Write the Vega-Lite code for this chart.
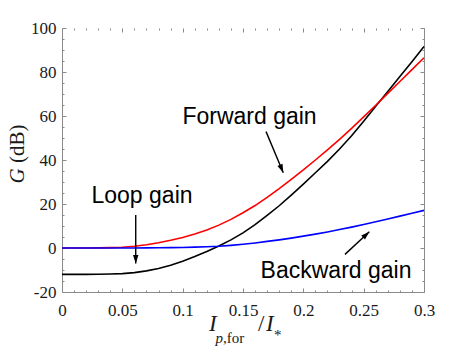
{
  "$schema": "https://vega.github.io/schema/vega-lite/v6.json",
  "width": 362,
  "height": 264,
  "autosize": {"type": "none"},
  "padding": {"left": 62, "top": 28, "right": 45, "bottom": 60},
  "background": "white",
  "config": {
    "view": {"stroke": null},
    "axis": {
      "grid": false,
      "title": null,
      "domainColor": "#8a8a8a",
      "tickColor": "#8a8a8a"
    }
  },
  "datasets": {
    "curves": [
      {"x": 0, "G": -12.0, "series": "Loop"},
      {"x": 0.01, "G": -12.0, "series": "Loop"},
      {"x": 0.02, "G": -12.0, "series": "Loop"},
      {"x": 0.03, "G": -11.95, "series": "Loop"},
      {"x": 0.04, "G": -11.85, "series": "Loop"},
      {"x": 0.05, "G": -11.65, "series": "Loop"},
      {"x": 0.06, "G": -11.2, "series": "Loop"},
      {"x": 0.07, "G": -10.4, "series": "Loop"},
      {"x": 0.08, "G": -9.3, "series": "Loop"},
      {"x": 0.09, "G": -7.8, "series": "Loop"},
      {"x": 0.1, "G": -6.0, "series": "Loop"},
      {"x": 0.11, "G": -3.9, "series": "Loop"},
      {"x": 0.12, "G": -1.6, "series": "Loop"},
      {"x": 0.13, "G": 0.9, "series": "Loop"},
      {"x": 0.14, "G": 3.7, "series": "Loop"},
      {"x": 0.15, "G": 6.9, "series": "Loop"},
      {"x": 0.16, "G": 10.6, "series": "Loop"},
      {"x": 0.17, "G": 14.8, "series": "Loop"},
      {"x": 0.18, "G": 19.2, "series": "Loop"},
      {"x": 0.19, "G": 24.0, "series": "Loop"},
      {"x": 0.2, "G": 29.0, "series": "Loop"},
      {"x": 0.21, "G": 34.2, "series": "Loop"},
      {"x": 0.22, "G": 39.4, "series": "Loop"},
      {"x": 0.23, "G": 45.0, "series": "Loop"},
      {"x": 0.24, "G": 51.0, "series": "Loop"},
      {"x": 0.25, "G": 57.6, "series": "Loop"},
      {"x": 0.26, "G": 64.4, "series": "Loop"},
      {"x": 0.27, "G": 71.1, "series": "Loop"},
      {"x": 0.28, "G": 77.9, "series": "Loop"},
      {"x": 0.29, "G": 84.7, "series": "Loop"},
      {"x": 0.3, "G": 91.6, "series": "Loop"},
      {"x": 0, "G": 0, "series": "Forward"},
      {"x": 0.01, "G": 0, "series": "Forward"},
      {"x": 0.02, "G": 0.02, "series": "Forward"},
      {"x": 0.03, "G": 0.05, "series": "Forward"},
      {"x": 0.04, "G": 0.15, "series": "Forward"},
      {"x": 0.05, "G": 0.35, "series": "Forward"},
      {"x": 0.06, "G": 0.8, "series": "Forward"},
      {"x": 0.07, "G": 1.5, "series": "Forward"},
      {"x": 0.08, "G": 2.4, "series": "Forward"},
      {"x": 0.09, "G": 3.5, "series": "Forward"},
      {"x": 0.1, "G": 4.8, "series": "Forward"},
      {"x": 0.11, "G": 6.4, "series": "Forward"},
      {"x": 0.12, "G": 8.2, "series": "Forward"},
      {"x": 0.13, "G": 10.4, "series": "Forward"},
      {"x": 0.14, "G": 13.0, "series": "Forward"},
      {"x": 0.15, "G": 16.0, "series": "Forward"},
      {"x": 0.16, "G": 19.3, "series": "Forward"},
      {"x": 0.17, "G": 23.0, "series": "Forward"},
      {"x": 0.18, "G": 27.0, "series": "Forward"},
      {"x": 0.19, "G": 31.2, "series": "Forward"},
      {"x": 0.2, "G": 35.5, "series": "Forward"},
      {"x": 0.21, "G": 40.0, "series": "Forward"},
      {"x": 0.22, "G": 44.6, "series": "Forward"},
      {"x": 0.23, "G": 49.4, "series": "Forward"},
      {"x": 0.24, "G": 54.4, "series": "Forward"},
      {"x": 0.25, "G": 59.6, "series": "Forward"},
      {"x": 0.26, "G": 64.9, "series": "Forward"},
      {"x": 0.27, "G": 70.3, "series": "Forward"},
      {"x": 0.28, "G": 75.7, "series": "Forward"},
      {"x": 0.29, "G": 81.1, "series": "Forward"},
      {"x": 0.3, "G": 86.5, "series": "Forward"},
      {"x": 0, "G": 0, "series": "Backward"},
      {"x": 0.01, "G": 0, "series": "Backward"},
      {"x": 0.02, "G": 0, "series": "Backward"},
      {"x": 0.03, "G": 0, "series": "Backward"},
      {"x": 0.04, "G": 0, "series": "Backward"},
      {"x": 0.05, "G": 0.01, "series": "Backward"},
      {"x": 0.06, "G": 0.02, "series": "Backward"},
      {"x": 0.07, "G": 0.05, "series": "Backward"},
      {"x": 0.08, "G": 0.1, "series": "Backward"},
      {"x": 0.09, "G": 0.15, "series": "Backward"},
      {"x": 0.1, "G": 0.25, "series": "Backward"},
      {"x": 0.11, "G": 0.38, "series": "Backward"},
      {"x": 0.12, "G": 0.55, "series": "Backward"},
      {"x": 0.13, "G": 0.8, "series": "Backward"},
      {"x": 0.14, "G": 1.2, "series": "Backward"},
      {"x": 0.15, "G": 1.7, "series": "Backward"},
      {"x": 0.16, "G": 2.3, "series": "Backward"},
      {"x": 0.17, "G": 3.0, "series": "Backward"},
      {"x": 0.18, "G": 3.7, "series": "Backward"},
      {"x": 0.19, "G": 4.5, "series": "Backward"},
      {"x": 0.2, "G": 5.4, "series": "Backward"},
      {"x": 0.21, "G": 6.3, "series": "Backward"},
      {"x": 0.22, "G": 7.3, "series": "Backward"},
      {"x": 0.23, "G": 8.4, "series": "Backward"},
      {"x": 0.24, "G": 9.5, "series": "Backward"},
      {"x": 0.25, "G": 10.7, "series": "Backward"},
      {"x": 0.26, "G": 11.9, "series": "Backward"},
      {"x": 0.27, "G": 13.2, "series": "Backward"},
      {"x": 0.28, "G": 14.5, "series": "Backward"},
      {"x": 0.29, "G": 15.8, "series": "Backward"},
      {"x": 0.3, "G": 17.1, "series": "Backward"}
    ],
    "arrows": [
      {"arrow": "loop", "x": 0.0611, "y": 15.0, "x2": 0.0611, "y2": -7.0},
      {"arrow": "forward", "x": 0.1691, "y": 52.9, "x2": 0.1834, "y2": 34.2},
      {"arrow": "backward", "x": 0.2345, "y": -2.9, "x2": 0.2547, "y2": 7.4}
    ],
    "labels": [
      {"text": "Forward gain", "x": 0.1554, "y": 56.4, "part": "annotation"},
      {"text": "Loop gain", "x": 0.0663, "y": 20.5, "part": "annotation"},
      {"text": "Backward gain", "x": 0.2271, "y": -13.5, "part": "annotation"},
      {"text": "I", "x": 0.1218, "y": -37.7, "part": "xvar"},
      {"text": "p", "x": 0.1272, "y": -43.2, "part": "xsubvar"},
      {"text": ",for", "x": 0.1334, "y": -43.2, "part": "xsubtext"},
      {"text": "/", "x": 0.1624, "y": -37.7, "part": "xop"},
      {"text": "I", "x": 0.1691, "y": -37.7, "part": "xvar"},
      {"text": "*", "x": 0.1757, "y": -41.8, "part": "xsubtext"},
      {"text": "G", "x": -0.0315, "y": 29.3, "part": "yvar"},
      {"text": "(dB)", "x": -0.0315, "y": 38.6, "part": "yunit"}
    ]
  },
  "layer": [
    {
      "data": {"name": "curves"},
      "transform": [{"filter": "datum.series === 'Loop'"}],
      "mark": {"type": "line", "color": "#000000", "strokeWidth": 1.6},
      "encoding": {
        "x": {"field": "x", "type": "quantitative", "scale": {"domain": [0, 0.3], "nice": false, "zero": false},
          "axis": {"orient": "bottom", "values": [0, 0.05, 0.1, 0.15, 0.2, 0.25, 0.3], "labelExpr": "'' + datum.value", "tickSize": -4, "labelPadding": 14, "labelFlush": false, "labelOverlap": false, "labelFont": "Liberation Serif", "labelFontSize": 17, "labelColor": "#1a1a1a"}},
        "y": {"field": "G", "type": "quantitative", "scale": {"domain": [-20, 100], "nice": false, "zero": false},
          "axis": {"orient": "left", "values": [-20, 0, 20, 40, 60, 80, 100], "labelExpr": "'' + datum.value", "tickSize": -4, "labelPadding": 10, "labelFlush": false, "labelOverlap": false, "labelFont": "Liberation Serif", "labelFontSize": 17, "labelColor": "#1a1a1a"}}
      }
    },
    {
      "data": {"name": "curves"},
      "transform": [{"filter": "datum.series === 'Forward'"}],
      "mark": {"type": "line", "color": "#ff0000", "strokeWidth": 1.6},
      "encoding": {
        "x": {"field": "x", "type": "quantitative", "scale": {"domain": [0, 0.3], "nice": false, "zero": false},
          "axis": {"orient": "bottom", "values": [0.01, 0.02, 0.03, 0.04, 0.06, 0.07, 0.08, 0.09, 0.11, 0.12, 0.13, 0.14, 0.16, 0.17, 0.18, 0.19, 0.21, 0.22, 0.23, 0.24, 0.26, 0.27, 0.28, 0.29], "labels": false, "domain": false, "tickSize": -2}},
        "y": {"field": "G", "type": "quantitative", "scale": {"domain": [-20, 100], "nice": false, "zero": false},
          "axis": {"orient": "left", "values": [-15, -10, -5, 5, 10, 15, 25, 30, 35, 45, 50, 55, 65, 70, 75, 85, 90, 95], "labels": false, "domain": false, "tickSize": -2}}
      }
    },
    {
      "data": {"name": "curves"},
      "transform": [{"filter": "datum.series === 'Backward'"}],
      "mark": {"type": "line", "color": "#0000ff", "strokeWidth": 1.6},
      "encoding": {
        "x": {"field": "x", "type": "quantitative", "scale": {"domain": [0, 0.3], "nice": false, "zero": false},
          "axis": {"orient": "top", "values": [0, 0.05, 0.1, 0.15, 0.2, 0.25, 0.3], "labels": false, "domain": false, "tickSize": -4}},
        "y": {"field": "G", "type": "quantitative", "scale": {"domain": [-20, 100], "nice": false, "zero": false},
          "axis": {"orient": "right", "values": [-20, 0, 20, 40, 60, 80, 100], "labels": false, "domain": true, "tickSize": -4}}
      }
    },
    {
      "data": {"name": "arrows"},
      "mark": {"type": "rule", "color": "#000000", "strokeWidth": 1.4},
      "encoding": {
        "x": {"field": "x", "type": "quantitative", "scale": {"domain": [0, 0.3], "nice": false, "zero": false},
          "axis": {"orient": "top", "values": [0.01, 0.02, 0.03, 0.04, 0.06, 0.07, 0.08, 0.09, 0.11, 0.12, 0.13, 0.14, 0.16, 0.17, 0.18, 0.19, 0.21, 0.22, 0.23, 0.24, 0.26, 0.27, 0.28, 0.29], "labels": false, "domain": false, "tickSize": -2}},
        "y": {"field": "y", "type": "quantitative", "scale": {"domain": [-20, 100], "nice": false, "zero": false},
          "axis": {"orient": "right", "values": [-15, -10, -5, 5, 10, 15, 25, 30, 35, 45, 50, 55, 65, 70, 75, 85, 90, 95], "labels": false, "domain": false, "tickSize": -2}},
        "x2": {"field": "x2"},
        "y2": {"field": "y2"}
      }
    },
    {
      "data": {"name": "arrows"},
      "transform": [{"filter": "datum.arrow === 'loop'"}],
      "mark": {"type": "point", "filled": true, "color": "#000000", "opacity": 1, "shape": "M0,0L-0.55,1.7L0.55,1.7Z", "size": 100, "angle": 180, "strokeWidth": 0},
      "encoding": {
        "x": {"field": "x2", "type": "quantitative", "scale": {"domain": [0, 0.3], "nice": false, "zero": false}, "axis": null},
        "y": {"field": "y2", "type": "quantitative", "scale": {"domain": [-20, 100], "nice": false, "zero": false}, "axis": null}
      }
    },
    {
      "data": {"name": "arrows"},
      "transform": [{"filter": "datum.arrow === 'forward'"}],
      "mark": {"type": "point", "filled": true, "color": "#000000", "opacity": 1, "shape": "M0,0L-0.55,1.7L0.55,1.7Z", "size": 100, "angle": 157, "strokeWidth": 0},
      "encoding": {
        "x": {"field": "x2", "type": "quantitative", "scale": {"domain": [0, 0.3], "nice": false, "zero": false}, "axis": null},
        "y": {"field": "y2", "type": "quantitative", "scale": {"domain": [-20, 100], "nice": false, "zero": false}, "axis": null}
      }
    },
    {
      "data": {"name": "arrows"},
      "transform": [{"filter": "datum.arrow === 'backward'"}],
      "mark": {"type": "point", "filled": true, "color": "#000000", "opacity": 1, "shape": "M0,0L-0.55,1.7L0.55,1.7Z", "size": 100, "angle": 47, "strokeWidth": 0},
      "encoding": {
        "x": {"field": "x2", "type": "quantitative", "scale": {"domain": [0, 0.3], "nice": false, "zero": false}, "axis": null},
        "y": {"field": "y2", "type": "quantitative", "scale": {"domain": [-20, 100], "nice": false, "zero": false}, "axis": null}
      }
    },
    {
      "data": {"name": "labels"},
      "transform": [{"filter": "datum.part === 'annotation'"}],
      "mark": {"type": "text", "font": "Liberation Sans", "fontSize": 23, "align": "center", "baseline": "alphabetic", "color": "#000000"},
      "encoding": {
        "x": {"field": "x", "type": "quantitative", "scale": {"domain": [0, 0.3], "nice": false, "zero": false}, "axis": null},
        "y": {"field": "y", "type": "quantitative", "scale": {"domain": [-20, 100], "nice": false, "zero": false}, "axis": null},
        "text": {"field": "text"}
      }
    },
    {
      "data": {"name": "labels"},
      "transform": [{"filter": "datum.part === 'xvar'"}],
      "mark": {"type": "text", "font": "Liberation Serif", "fontSize": 23, "fontStyle": "italic", "align": "left", "baseline": "alphabetic", "color": "#1a1a1a"},
      "encoding": {
        "x": {"field": "x", "type": "quantitative", "scale": {"domain": [0, 0.3], "nice": false, "zero": false}, "axis": null},
        "y": {"field": "y", "type": "quantitative", "scale": {"domain": [-20, 100], "nice": false, "zero": false}, "axis": null},
        "text": {"field": "text"}
      }
    },
    {
      "data": {"name": "labels"},
      "transform": [{"filter": "datum.part === 'xop'"}],
      "mark": {"type": "text", "font": "Liberation Serif", "fontSize": 23, "align": "left", "baseline": "alphabetic", "color": "#1a1a1a"},
      "encoding": {
        "x": {"field": "x", "type": "quantitative", "scale": {"domain": [0, 0.3], "nice": false, "zero": false}, "axis": null},
        "y": {"field": "y", "type": "quantitative", "scale": {"domain": [-20, 100], "nice": false, "zero": false}, "axis": null},
        "text": {"field": "text"}
      }
    },
    {
      "data": {"name": "labels"},
      "transform": [{"filter": "datum.part === 'xsubvar'"}],
      "mark": {"type": "text", "font": "Liberation Serif", "fontSize": 15, "fontStyle": "italic", "align": "left", "baseline": "alphabetic", "color": "#1a1a1a"},
      "encoding": {
        "x": {"field": "x", "type": "quantitative", "scale": {"domain": [0, 0.3], "nice": false, "zero": false}, "axis": null},
        "y": {"field": "y", "type": "quantitative", "scale": {"domain": [-20, 100], "nice": false, "zero": false}, "axis": null},
        "text": {"field": "text"}
      }
    },
    {
      "data": {"name": "labels"},
      "transform": [{"filter": "datum.part === 'xsubtext'"}],
      "mark": {"type": "text", "font": "Liberation Serif", "fontSize": 15, "align": "left", "baseline": "alphabetic", "color": "#1a1a1a"},
      "encoding": {
        "x": {"field": "x", "type": "quantitative", "scale": {"domain": [0, 0.3], "nice": false, "zero": false}, "axis": null},
        "y": {"field": "y", "type": "quantitative", "scale": {"domain": [-20, 100], "nice": false, "zero": false}, "axis": null},
        "text": {"field": "text"}
      }
    },
    {
      "data": {"name": "labels"},
      "transform": [{"filter": "datum.part === 'yvar'"}],
      "mark": {"type": "text", "font": "Liberation Serif", "fontSize": 21, "fontStyle": "italic", "angle": 270, "align": "left", "baseline": "alphabetic", "color": "#1a1a1a"},
      "encoding": {
        "x": {"field": "x", "type": "quantitative", "scale": {"domain": [0, 0.3], "nice": false, "zero": false}, "axis": null},
        "y": {"field": "y", "type": "quantitative", "scale": {"domain": [-20, 100], "nice": false, "zero": false}, "axis": null},
        "text": {"field": "text"}
      }
    },
    {
      "data": {"name": "labels"},
      "transform": [{"filter": "datum.part === 'yunit'"}],
      "mark": {"type": "text", "font": "Liberation Serif", "fontSize": 21, "angle": 270, "align": "left", "baseline": "alphabetic", "color": "#1a1a1a"},
      "encoding": {
        "x": {"field": "x", "type": "quantitative", "scale": {"domain": [0, 0.3], "nice": false, "zero": false}, "axis": null},
        "y": {"field": "y", "type": "quantitative", "scale": {"domain": [-20, 100], "nice": false, "zero": false}, "axis": null},
        "text": {"field": "text"}
      }
    }
  ],
  "resolve": {"axis": {"x": "independent", "y": "independent"}}
}
